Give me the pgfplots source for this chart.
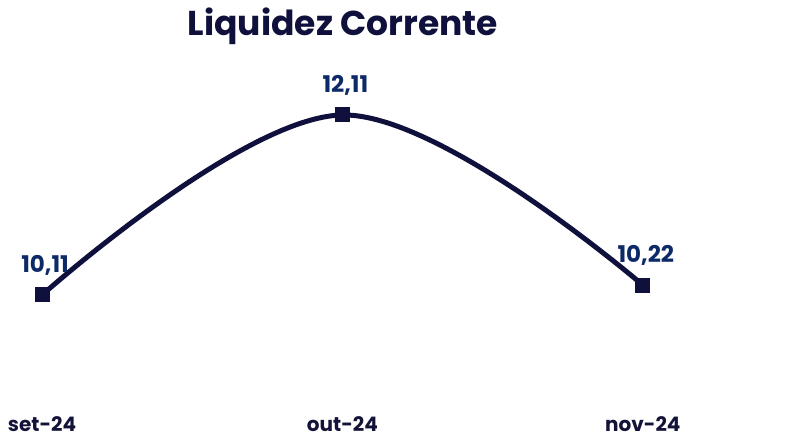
\documentclass[border=0pt]{standalone}
\usepackage{fontspec}
\setmainfont{Poppins}
\usepackage{pgfplots}
\pgfplotsset{compat=1.18}
\definecolor{lineC}{HTML}{10103C}
\definecolor{labC}{HTML}{0E2A66}
\definecolor{tickC}{HTML}{13133A}
\begin{document}
\begin{tikzpicture}
\begin{axis}[
  scale only axis,
  width=790pt, height=345pt,
  xmin=-0.14, xmax=2.49,
  ymin=8.91, ymax=12.743,
  axis line style={draw=none},
  major tick length=0pt,
  ytick=\empty,
  xtick={0,1,2},
  xticklabels={set-24,out-24,nov-24},
  xticklabel style={font=\fontsize{20}{24}\selectfont\bfseries, text=tickC, inner sep=0pt, yshift=-13pt},
  title={Liquidez Corrente},
  title style={font=\fontsize{34.5}{40}\selectfont\bfseries, text=lineC, yshift=4pt, xshift=-52pt},
  /pgf/number format/assume math mode=true,
  clip=false,
  nodes near coords={\pgfmathprintnumber[fixed,fixed zerofill,precision=2,use comma]{\pgfplotspointmeta}},
  nodes near coords style={font=\fontsize{23}{27}\selectfont\bfseries, text=labC, anchor=south, yshift=16pt, xshift=3pt},
]
\addplot[color=lineC, line width=5pt, smooth, tension=0.6, mark=square*, mark size=7pt, mark options={fill=lineC, line width=0pt}]
  coordinates {(0,10.11) (1,12.11) (2,10.22)};
\end{axis}
\pgfresetboundingbox
\path[use as bounding box] (0pt,-35pt) rectangle (790pt,403pt);
\end{tikzpicture}
\end{document}
